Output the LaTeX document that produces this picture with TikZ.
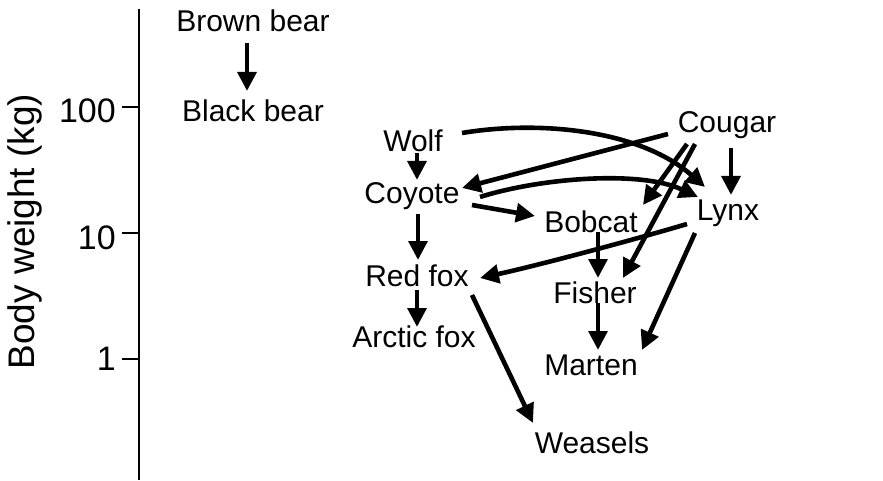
\documentclass[tikz,border=0pt]{standalone}
\usepackage{fontspec}
\setmainfont{Liberation Sans}
\usetikzlibrary{arrows.meta}
\begin{document}
\begin{tikzpicture}[x=1pt,y=-1pt,
  lab/.style={font=\fontsize{30}{32}\selectfont, inner sep=0pt, anchor=base},
  ticklab/.style={font=\fontsize{34}{36}\selectfont, inner sep=0pt, anchor=base east},
  arr/.style={line width=4.6pt, -{Triangle[length=19pt,width=18.5pt]}},
  ax/.style={line width=1.2pt}]
\useasboundingbox (0,0) rectangle (883,481);
% axis
\coordinate (axtop) at (139,9);
\coordinate (axbot) at (139,480);
\coordinate (t100) at (139,107);
\coordinate (t10) at (139,233);
\coordinate (t1) at (139,359);
\draw[ax] (axtop) -- (axbot);
\draw[ax] (t100) -- ++(-17,0);
\draw[ax] (t10) -- ++(-17,0);
\draw[ax] (t1) -- ++(-17,0);
\node[ticklab] (l100) at (116,123) {100};
\node[ticklab] (l10) at (116,249) {10};
\node[ticklab] (l1) at (116,370) {1};
\node[font=\fontsize{37}{40}\selectfont, rotate=90, anchor=base, inner sep=0pt] (ytitle) at (34,231.5) {Body weight (kg)};
% species
\node[lab] (brown) at (253,32) {Brown bear};
\node[lab] (black) at (253,122) {Black bear};
\node[lab] (wolf) at (413,152) {Wolf};
\node[lab] (coyote) at (412,204) {Coyote};
\node[lab] (cougar) at (727,133) {Cougar};
\node[lab] (lynx) at (728,221) {Lynx};
\node[lab] (bobcat) at (591,232) {Bobcat};
\node[lab] (redfox) at (417,286) {Red fox};
\node[lab] (fisher) at (595,303) {Fisher};
\node[lab] (arctic) at (414,347) {Arctic fox};
\node[lab] (marten) at (591,375) {Marten};
\node[lab] (weasels) at (592,453) {Weasels};
% straight arrows
\draw[arr] ([shift={(-6,11)}]brown.base) -- ([shift={(-6,-31)}]black.base);
\draw[arr] ([shift={(4,1)}]wolf.base) -- ([shift={(5,-24)}]coyote.base);
\draw[arr] ([shift={(6,10)}]coyote.base) -- ([shift={(1,-26)}]redfox.base);
\draw[arr] ([shift={(0,4)}]redfox.base) -- ([shift={(3,-20)}]arctic.base);
\draw[arr] ([shift={(7,0)}]bobcat.base) -- ([shift={(3,-25)}]fisher.base);
\draw[arr] ([shift={(3,0)}]fisher.base) -- ([shift={(7,-25)}]marten.base);
\draw[arr] ([shift={(4,15)}]cougar.base) -- ([shift={(3,-26)}]lynx.base);
\draw[arr] ([shift={(-33,12)}]lynx.base) -- ([shift={(51,-25)}]marten.base);
\draw[arr] ([shift={(55,9)}]redfox.base) -- ([shift={(-59,-30)}]weasels.base);
\draw[arr] ([shift={(60,1)}]coyote.base) -- ([shift={(-56,-16)}]bobcat.base);
\draw[arr] ([shift={(-59,1)}]cougar.base) -- ([shift={(50,-16)}]coyote.base);
\draw[arr] ([shift={(-40,11)}]cougar.base) -- ([shift={(52,-27)}]bobcat.base);
\draw[arr] ([shift={(-32,11)}]cougar.base) -- ([shift={(28,-25)}]fisher.base);
% curved arrows
\draw[arr] ([shift={(49,-19)}]wolf.base) .. controls +(78,-13) and +(-65,-57) .. ([shift={(-23,-34)}]lynx.base);
\draw[arr] ([shift={(68,-7)}]coyote.base) .. controls +(60,-19) and +(-58,-27) .. ([shift={(-30,-24)}]lynx.base);
\draw[arr] ([shift={(-41,3)}]lynx.base) .. controls +(-47,14) and +(60,-13) .. ([shift={(63,-8)}]redfox.base);
\end{tikzpicture}
\end{document}
